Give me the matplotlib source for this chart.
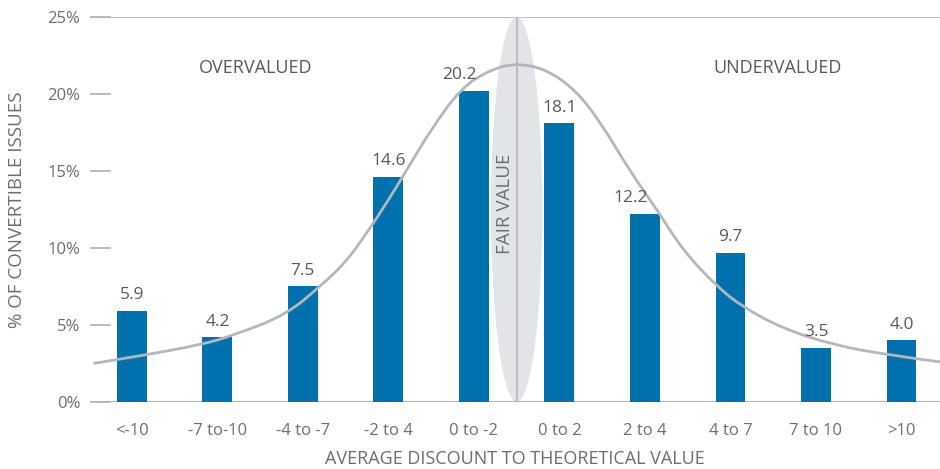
import matplotlib
matplotlib.use("Agg")
import matplotlib.pyplot as plt
from matplotlib.patches import Ellipse, PathPatch
from matplotlib.path import Path

plt.rcParams['font.family'] = ['Open Sans', 'DejaVu Sans']

# Данні з графіка
categories = ['<-10', '-7 to-10', '-4 to -7', '-2 to 4', '0 to -2',
              '0 to 2', '2 to 4', '4 to 7', '7 to 10', '>10']
values = [5.9, 4.2, 7.5, 14.6, 20.2, 18.1, 12.2, 9.7, 3.5, 4.0]
label_shift = [0, 0, 0, 0, -0.17, 0, -0.17, 0, 0, 0]

# Крива розподілу (у позиціях категорій)
curve_x = [-0.45, 0.05, 0.8, 1.2, 1.8, 2.2, 2.5, 2.75, 3.0, 3.25, 3.5, 3.85,
           4.2, 4.5, 4.85, 5.2, 5.5, 5.8, 6.15, 6.45, 6.85, 7.15, 7.6, 8.2,
           8.85, 9.45]
curve_y = [2.5, 2.95, 3.7, 4.35, 5.65, 7.5, 9.05, 11.0, 13.1, 15.4, 17.7, 20.4,
           21.6, 22.0, 21.6, 20.2, 18.0, 15.2, 12.4, 9.8, 7.45, 6.15, 4.8, 3.7,
           3.05, 2.6]

yticks = [0, 5, 10, 15, 20, 25]
fair_pos = 4.5

blue = '#0071AD'
line_gray = '#B3B7BD'
text_gray = '#6D6E71'
dark_text = '#58595B'


# Гладка крива: квадратичні сегменти Безьє через середини відрізків
def smooth_path(xs, ys):
    pts = list(zip(xs, ys))
    verts = [pts[0]]
    codes = [Path.MOVETO]
    for i in range(1, len(pts) - 1):
        mid = ((pts[i][0] + pts[i + 1][0]) / 2, (pts[i][1] + pts[i + 1][1]) / 2)
        if i == len(pts) - 2:
            mid = pts[-1]
        verts += [pts[i], mid]
        codes += [Path.CURVE3, Path.CURVE3]
    return Path(verts, codes)


fig = plt.figure(figsize=(9.4, 4.69), dpi=100)
ax = fig.add_axes([0.0957, 0.1429, 0.9043, 0.8209])

x = list(range(len(categories)))

# Зона справедливої вартості
ax.add_patch(Ellipse((fair_pos, 12.5), 0.6, 25, facecolor='#E2E4E8',
                     edgecolor='none', zorder=1))
ax.plot([fair_pos, fair_pos], [0, 25], color=line_gray, lw=1.2, zorder=2)
ax.text(fair_pos - 0.14, 12.85, 'FAIR VALUE', rotation=90, ha='center',
        va='center', fontsize=13.5, color=text_gray, zorder=3)

ax.bar(x, values, width=0.35, color=blue, zorder=3)

for xi, v, s in zip(x, values, label_shift):
    ax.text(xi + s, v + 0.5, f'{v:.1f}', ha='center', va='bottom',
            fontsize=12.5, color=dark_text, zorder=5)

ax.add_patch(PathPatch(smooth_path(curve_x, curve_y), facecolor='none',
                       edgecolor=line_gray, lw=2, zorder=4))

ax.axhline(25, color=line_gray, lw=1.3, zorder=0)
ax.axhline(0, color=line_gray, lw=1.5, zorder=2)

ax.text(1.45, 21.7, 'OVERVALUED', ha='center', va='center', fontsize=13,
        color=dark_text)
ax.text(7.55, 21.7, 'UNDERVALUED', ha='center', va='center', fontsize=13,
        color=dark_text)

ax.set_xlim(-0.49, 9.45)
ax.set_ylim(0, 25)
ax.set_xticks(x)
ax.set_xticklabels(categories)
ax.set_yticks(yticks)
ax.set_yticklabels([f'{t}%' for t in yticks])

for sp in ax.spines.values():
    sp.set_visible(False)

ax.tick_params(axis='y', direction='in', length=15, width=1.3, color=line_gray,
               pad=7, labelsize=12, labelcolor=text_gray)
ax.tick_params(axis='x', length=0, pad=15, labelsize=12, labelcolor=text_gray)

ax.set_ylabel('% OF CONVERTIBLE ISSUES', fontsize=13.5, color=text_gray, labelpad=15)
ax.set_xlabel('AVERAGE DISCOUNT TO THEORETICAL VALUE', fontsize=13,
              color=text_gray, labelpad=8)

fig.savefig('out.png', dpi=100)
